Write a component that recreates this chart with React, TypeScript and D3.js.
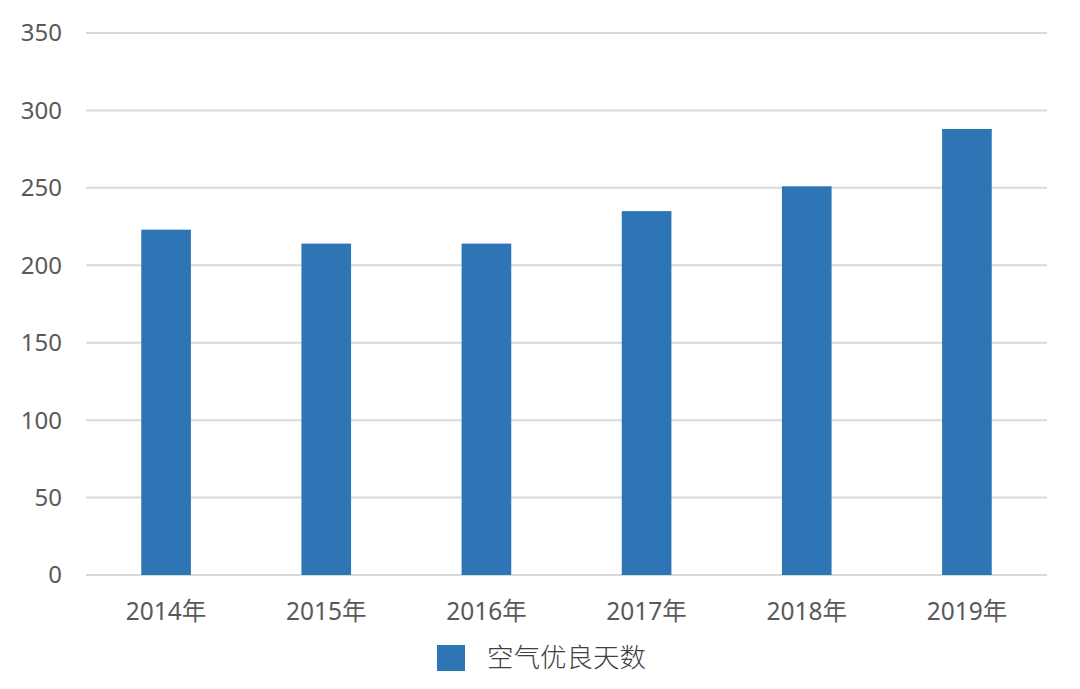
import React from 'react';
import * as d3 from 'd3';

const years = ['2014年', '2015年', '2016年', '2017年', '2018年', '2019年'];
const goodDays = [223, 214, 214, 235, 251, 288];
const yTicks = [0, 50, 100, 150, 200, 250, 300, 350];
const seriesName = '空气优良天数';

const W = 1080;
const H = 689;
const margin = { top: 33, right: 33, bottom: 114, left: 86 };

const App: React.FC = () => {
  const innerW = W - margin.left - margin.right;
  const innerH = H - margin.top - margin.bottom;

  const x = d3.scaleBand<string>().domain(years).range([0, innerW]).padding(0);
  const y = d3.scaleLinear().domain([0, 350]).range([innerH, 0]);
  const barW = x.bandwidth() * 0.31;

  const textColor = '#595959';
  const font = '"Noto Sans", "Noto Sans CJK SC", sans-serif';

  return (
    <svg
      width={W}
      height={H}
      style={{ position: 'absolute', left: 0, top: 0, background: '#fff' }}
    >
      <g transform={`translate(${margin.left},${margin.top})`}>
        {/* gridlines */}
        {yTicks.map(t => (
          <line
            key={t}
            x1={0}
            x2={innerW}
            y1={y(t)}
            y2={y(t)}
            stroke="#d9d9d9"
            strokeWidth={2}
          />
        ))}
        {/* y labels */}
        {yTicks.map(t => (
          <text
            key={`l${t}`}
            x={-24}
            y={y(t)}
            dy="0.35em"
            textAnchor="end"
            fill={textColor}
            fontFamily={font}
            fontSize={24}
          >
            {t}
          </text>
        ))}
        {/* bars */}
        {years.map((yr, i) => (
          <rect
            key={yr}
            x={(x(yr) || 0) + x.bandwidth() / 2 - barW / 2}
            y={y(goodDays[i])}
            width={barW}
            height={innerH - y(goodDays[i])}
            fill="#2e75b6"
          />
        ))}
        {/* x labels */}
        {years.map(yr => (
          <text
            key={`x${yr}`}
            x={(x(yr) || 0) + x.bandwidth() / 2}
            y={innerH + 36}
            dy="0.35em"
            textAnchor="middle"
            fill={textColor}
            fontFamily={font}
            fontSize={24.5}
          >
            {yr}
          </text>
        ))}
      </g>
      {/* legend */}
      <rect x={437} y={645} width={28} height={26} fill="#2e75b6" />
      <text
        x={487}
        y={658}
        dy="0.35em"
        fill="#404040"
        fontFamily='"Noto Sans CJK SC", sans-serif'
        fontWeight={300}
        fontSize={26.5}
      >
        {seriesName}
      </text>
    </svg>
  );
};

export default App;
